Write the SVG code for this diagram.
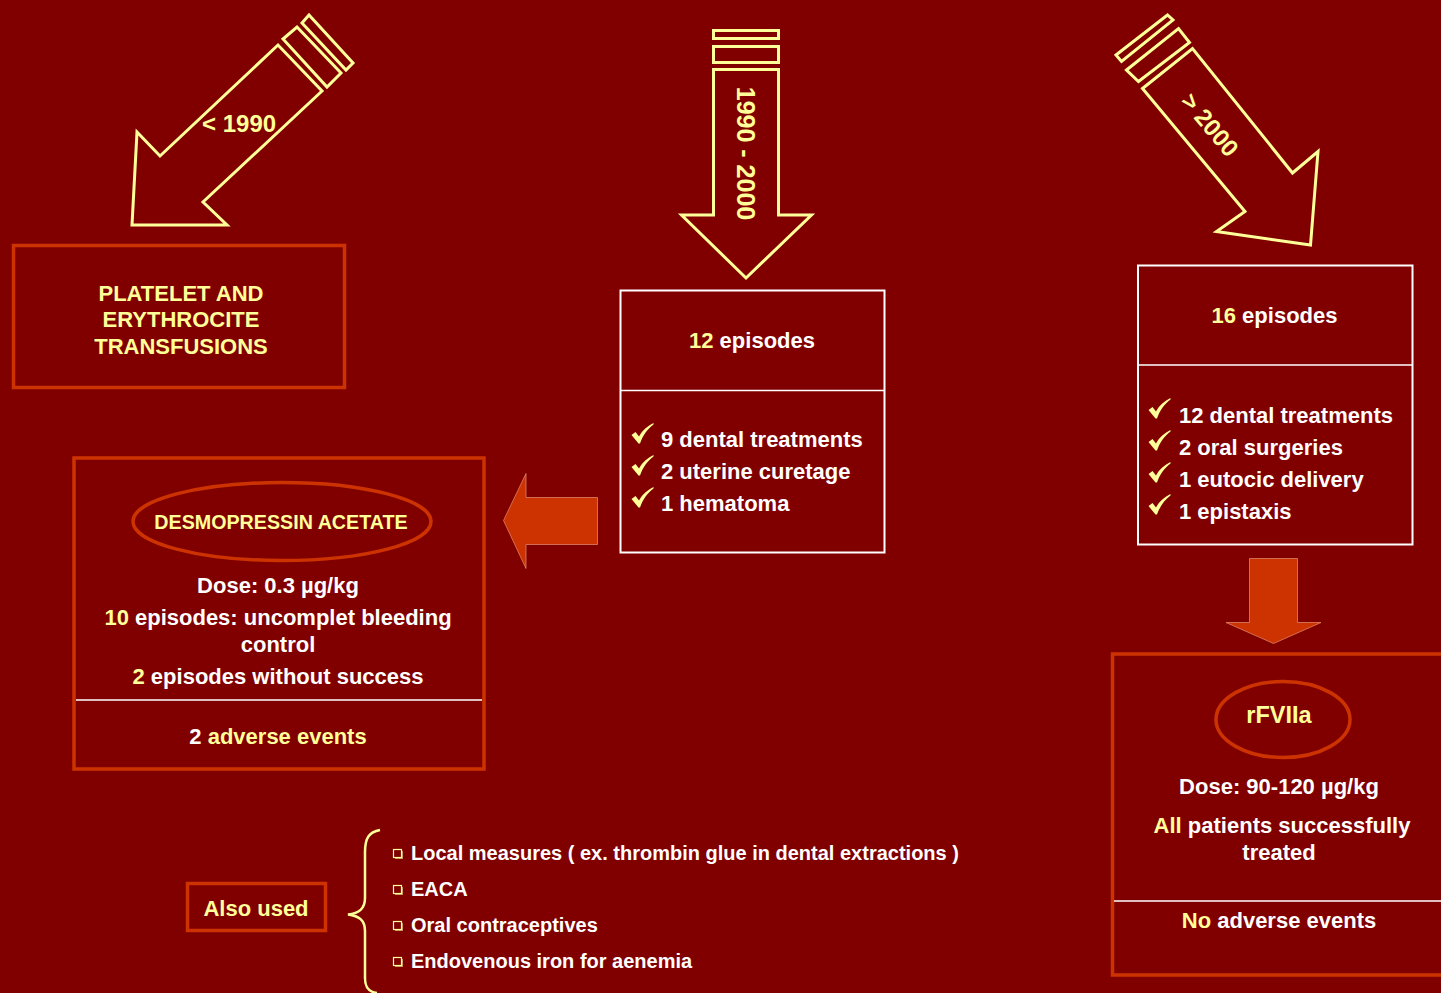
<svg xmlns="http://www.w3.org/2000/svg" width="1441" height="993" viewBox="0 0 1441 993">
<style>
text{font-family:"Liberation Sans",Arial,Helvetica,sans-serif;font-weight:bold;}
.y{fill:#FFFF99;}
.w{fill:#FFFFFF;}
.t22{font-size:22px;}
.t20{font-size:20px;}
.t24{font-size:24px;}
.c{text-anchor:middle;}
.yo{fill:none;stroke:#FFFF99;stroke-width:3;stroke-linejoin:miter;}
.ob{fill:none;stroke:#CC3300;stroke-width:3.5;}
.wb{fill:none;stroke:#FFFFFF;stroke-width:2;}
.wl{stroke:#FFFFFF;stroke-width:1.5;}
.oa{fill:#CC3300;stroke:#E89070;stroke-width:1;stroke-opacity:0.7;}
.chk{fill:#FFFF99;}
.bul{fill:none;stroke:#FFFF99;stroke-width:1.2;}
</style>
<defs>
<path id="check" d="M0,12 L4,9 L7.5,13.5 C11,7 16,3 22,0 L22,1.5 C16,6 11.5,12 8.5,20.5 L7,20.5 Z"/>
<g id="bullet"><rect x="0.5" y="0.5" width="8" height="8" class="bul"/><path d="M9.5,2 V9.5 H2" fill="none" stroke="#FFFF99" stroke-width="1" stroke-opacity="0.6"/></g>
</defs>
<rect x="0" y="0" width="1441" height="993" fill="#800000"/>

<g id="arrow-before-1990">
<polygon class="yo" points="137,132 160,156 278,45 322,91 203,202 227,225 132,225"/>
<polygon class="yo" points="283,39 297,27 341,73 327,87"/>
<polygon class="yo" points="302,23 309,15 353,63 346,70"/>
<text class="y t24" x="202" y="132">&lt; 1990</text>
</g>

<g id="arrow-1990-2000">
<rect class="yo" x="713.5" y="30.5" width="65" height="8"/>
<rect class="yo" x="713.5" y="46.5" width="65" height="16"/>
<polygon class="yo" points="713.5,69.5 778.5,69.5 778.5,215 811.5,215 746,278 681.5,215 713.5,215"/>
<text class="y c" font-size="25" transform="translate(737,153.5) rotate(90)">1990 - 2000</text>
</g>

<g id="arrow-after-2000">
<polygon class="yo" points="1116,55 1167.5,15 1173,20 1121.5,61.5"/>
<polygon class="yo" points="1126.5,70 1178.5,28.5 1189.5,42.5 1138.5,81.5"/>
<polygon class="yo" points="1142.5,88.5 1192.5,48.5 1292.5,173 1318,151.5 1310.5,245 1216.5,231.5 1245,211.5"/>
<text class="y c t24" transform="translate(1203.5,130) rotate(50)">&gt; 2000</text>
</g>

<g id="box-transfusions">
<rect class="ob" x="13.5" y="245.5" width="331" height="142"/>
<text class="y t22 c" x="181" y="301">PLATELET AND</text>
<text class="y t22 c" x="181" y="327">ERYTHROCITE</text>
<text class="y t22 c" x="181" y="354">TRANSFUSIONS</text>
</g>

<g id="box-12-episodes">
<rect class="wb" x="620.5" y="290.5" width="264" height="262"/>
<line class="wl" x1="621" y1="390.5" x2="884" y2="390.5"/>
<text class="t22 c" x="752" y="348"><tspan class="y">12</tspan><tspan class="w"> episodes</tspan></text>
<use href="#check" class="chk" x="631.5" y="423"/>
<use href="#check" class="chk" x="631.5" y="455"/>
<use href="#check" class="chk" x="631.5" y="487"/>
<text class="w t22" x="661" y="447">9 dental treatments</text>
<text class="w t22" x="661" y="479">2 uterine curetage</text>
<text class="w t22" x="661" y="511">1 hematoma</text>
</g>

<g id="box-16-episodes">
<rect class="wb" x="1138" y="265.5" width="274.5" height="279"/>
<line class="wl" x1="1138" y1="365" x2="1412" y2="365"/>
<text class="t22 c" x="1274.5" y="323"><tspan class="y">16</tspan><tspan class="w"> episodes</tspan></text>
<use href="#check" class="chk" x="1148.5" y="398"/>
<use href="#check" class="chk" x="1148.5" y="430"/>
<use href="#check" class="chk" x="1148.5" y="462"/>
<use href="#check" class="chk" x="1148.5" y="494"/>
<text class="w t22" x="1179" y="423">12 dental treatments</text>
<text class="w t22" x="1179" y="455">2 oral surgeries</text>
<text class="w t22" x="1179" y="487">1 eutocic delivery</text>
<text class="w t22" x="1179" y="519">1 epistaxis</text>
</g>

<g id="box-desmopressin">
<rect class="ob" x="74" y="458" width="410" height="311"/>
<line class="wl" x1="76" y1="700" x2="482" y2="700"/>
<ellipse class="ob" cx="282" cy="521.5" rx="149" ry="39" stroke-width="3"/>
<text class="y c" font-size="19.7" x="281" y="529">DESMOPRESSIN ACETATE</text>
<text class="w t22 c" x="278" y="593">Dose: 0.3 µg/kg</text>
<text class="t22 c" x="278" y="625"><tspan class="y">10</tspan><tspan class="w"> episodes: uncomplet bleeding</tspan></text>
<text class="w t22 c" x="278" y="652">control</text>
<text class="t22 c" x="278" y="684"><tspan class="y">2</tspan><tspan class="w"> episodes without success</tspan></text>
<text class="t22 c" x="278" y="744"><tspan class="w">2</tspan><tspan class="y"> adverse events</tspan></text>
</g>

<g id="box-rfviia">
<rect class="ob" x="1112.5" y="654" width="340" height="321"/>
<line class="wl" x1="1114" y1="901" x2="1441" y2="901"/>
<ellipse class="ob" cx="1283" cy="719.5" rx="67" ry="38" stroke-width="3"/>
<text class="y c" font-size="23.5" x="1279" y="723">rFVIIa</text>
<text class="w t22 c" x="1279" y="794">Dose: 90-120 µg/kg</text>
<text class="t22 c" x="1282" y="833"><tspan class="y">All</tspan><tspan class="w"> patients successfully</tspan></text>
<text class="w t22 c" x="1279" y="860">treated</text>
<text class="t22 c" x="1279" y="928"><tspan class="y">No</tspan><tspan class="w"> adverse events</tspan></text>
</g>

<g id="box-also-used">
<rect class="ob" x="187.5" y="883.5" width="138" height="47" stroke-width="3"/>
<text class="y t22 c" x="256" y="916">Also used</text>
</g>

<g id="list-also-used">
<path d="M380,830 C369,832 365,838 365,852 L365,898 C365,909 359,913 348,914.5 C359,916 365,920 365,931 L365,978 C365,988 369,992 377,993" fill="none" stroke="#FFFF99" stroke-width="2.5"/>
<use href="#bullet" x="393" y="849"/>
<use href="#bullet" x="393" y="885"/>
<use href="#bullet" x="393" y="921"/>
<use href="#bullet" x="393" y="957"/>
<text class="w t20" x="411" y="860">Local measures ( ex. thrombin glue in dental extractions )</text>
<text class="w t20" x="411" y="896">EACA</text>
<text class="w t20" x="411" y="932">Oral contraceptives</text>
<text class="w t20" x="411" y="968">Endovenous iron for aenemia</text>
</g>

<g id="connectors">
<polygon class="oa" points="503.5,520.5 526,473.5 526,497.5 597.5,497.5 597.5,544.5 526,544.5 526,568.5"/>
<polygon class="oa" points="1249.5,558.5 1297.5,558.5 1297.5,622.5 1321,622.5 1273.5,643.5 1226,622.5 1249.5,622.5"/>
</g>
</svg>
